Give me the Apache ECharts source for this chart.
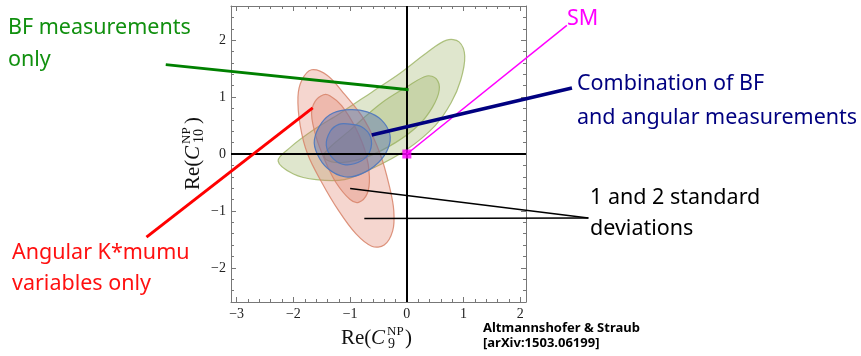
<!DOCTYPE html>
<html>
<head>
<meta charset="utf-8">
<script src="https://cdn.jsdelivr.net/npm/echarts@6/dist/echarts.min.js"></script>
<style>
  html, body { margin: 0; padding: 0; background: #fff; }
  #chart { width: 861px; height: 356px; }
</style>
</head>
<body>
<div id="chart"></div>
<script>
// Axis ranges and tick positions (Re C9 horizontally, Re C10 vertically)
const xRange = [-3.1, 2.1];
const yRange = [-2.6, 2.6];
const xMajorTicks = [-3, -2, -1, 0, 1, 2];
const yMajorTicks = [-2, -1, 0, 1, 2];

// Confidence contours, [Re C9, Re C10] vertices
const bfOuter = [[-2.27,-0.12],[-2.05,0.12],[-1.65,0.42],[-1.17,0.72],[-0.6,1.1],[-0.12,1.42],[0.35,1.78],[0.7,2.0],[0.92,1.97],[1.02,1.72],[0.95,1.3],[0.78,0.9],[0.5,0.5],[0.0,0.08],[-0.6,-0.25],[-1.1,-0.45],[-1.6,-0.45],[-2.0,-0.35]];
const bfInner = [[-1.45,0.02],[-1.0,0.42],[-0.47,0.88],[0.0,1.18],[0.35,1.37],[0.52,1.32],[0.57,1.12],[0.45,0.82],[0.2,0.5],[-0.2,0.2],[-0.7,-0.05],[-1.15,-0.15],[-1.42,-0.1]];
const angOuter = [[-1.68,1.48],[-1.85,1.3],[-1.92,1.0],[-1.88,0.5],[-1.75,0.0],[-1.5,-0.5],[-1.2,-1.0],[-0.9,-1.4],[-0.62,-1.62],[-0.4,-1.6],[-0.25,-1.35],[-0.23,-1.0],[-0.3,-0.6],[-0.47,0.0],[-0.75,0.6],[-1.1,1.05],[-1.4,1.38]];
const angInner = [[-1.47,1.04],[-1.62,0.92],[-1.68,0.7],[-1.6,0.3],[-1.45,-0.1],[-1.25,-0.5],[-1.0,-0.8],[-0.85,-0.85],[-0.7,-0.7],[-0.66,-0.4],[-0.72,0.0],[-0.9,0.45],[-1.15,0.85],[-1.35,1.02]];
const combOuter = [[-1.0,0.78],[-0.7,0.74],[-0.45,0.6],[-0.3,0.35],[-0.33,0.1],[-0.5,-0.15],[-0.8,-0.35],[-1.1,-0.4],[-1.4,-0.25],[-1.58,0.0],[-1.63,0.25],[-1.5,0.55],[-1.3,0.72]];
const combInner = [[-1.05,0.53],[-0.8,0.48],[-0.64,0.3],[-0.65,0.05],[-0.8,-0.12],[-1.08,-0.19],[-1.3,-0.08],[-1.42,0.15],[-1.35,0.4],[-1.2,0.52]];

// Standard Model point
const smPoint = [[0, 0]];

// Leader lines from the labels to the regions: [start, end]
const bfLeader = [[-4.25, 1.57], [0.03, 1.13]];
const angLeader = [[-4.59, -1.46], [-1.66, 0.81]];
const smLeader = [[0, 0], [2.82, 2.26]];
const combLeader = [[-0.62, 0.335], [2.91, 1.16]];
const sigmaLeader1 = [[-1.0, -0.605], [3.2, -1.125]];
const sigmaLeader2 = [[-0.75, -1.135], [3.2, -1.125]];

// Minor ticks every 0.2
function minorTicks(lo, hi) {
  const out = [];
  for (let i = Math.ceil(lo * 5); i <= Math.floor(hi * 5); i++) out.push(i / 5);
  return out;
}
const fmt = v => (v < 0 ? '\u2212' + Math.abs(v) : String(v));
const frameColor = '#777';
const tickFont = { fontFamily: 'Liberation Serif', fontSize: 14, color: '#222' };

function xAxisDef(position, ticks, len, labels, line) {
  return {
    type: 'value', position, min: xRange[0], max: xRange[1],
    splitLine: { show: false },
    axisLine: { show: line, onZero: false, lineStyle: { color: frameColor, width: 1 } },
    axisTick: { show: true, inside: true, length: len, customValues: ticks, lineStyle: { color: frameColor, width: 1 } },
    axisLabel: labels ? Object.assign({ show: true, customValues: xMajorTicks, formatter: fmt, margin: 5 }, tickFont) : { show: false }
  };
}
function yAxisDef(position, ticks, len, labels, line) {
  return {
    type: 'value', position, min: yRange[0], max: yRange[1],
    splitLine: { show: false },
    axisLine: { show: line, onZero: false, lineStyle: { color: frameColor, width: 1 } },
    axisTick: { show: true, inside: true, length: len, customValues: ticks, lineStyle: { color: frameColor, width: 1 } },
    axisLabel: labels ? Object.assign({ show: true, customValues: yMajorTicks, formatter: fmt, margin: 5 }, tickFont) : { show: false }
  };
}

// Filled contour drawn through the cartesian scales
function contour(points, fill, stroke, z) {
  return {
    type: 'custom', coordinateSystem: 'cartesian2d', xAxisIndex: 0, yAxisIndex: 0,
    z, silent: true, data: [points[0]],
    renderItem: (params, api) => ({
      type: 'polygon',
      shape: { points: points.map(p => api.coord(p)), smooth: 0.35 },
      style: { fill, stroke, lineWidth: 1.2 }
    })
  };
}
// Straight leader segment, allowed to run outside the plot frame
function leader(points, color, width) {
  return {
    type: 'custom', coordinateSystem: 'cartesian2d', xAxisIndex: 0, yAxisIndex: 0,
    clip: false, silent: true, z: 6, data: [points[0]],
    renderItem: (params, api) => {
      const a = api.coord(points[0]);
      const b = api.coord(points[1]);
      return {
        type: 'line',
        shape: { x1: a[0], y1: a[1], x2: b[0], y2: b[1] },
        style: { stroke: color, lineWidth: width, lineCap: 'butt' }
      };
    }
  };
}

const labelFont = 'Noto Sans';
function label(text, x, y, color, size, weight) {
  return {
    type: 'text', x, y, silent: true, z: 10,
    style: { text, fill: color, font: (weight || 'normal') + ' ' + size + 'px "' + labelFont + '"', verticalAlign: 'middle' }
  };
}
function mathTitle(x, y, sub, rotation) {
  const f = 'px "Liberation Serif"';
  return {
    type: 'group', x, y, rotation, silent: true,
    children: [
      { type: 'text', x: 0, y: 0, style: { text: 'Re(', font: '21' + f, fill: '#111', verticalAlign: 'middle' } },
      { type: 'text', x: 30, y: 0, style: { text: 'C', font: 'italic 21' + f, fill: '#111', verticalAlign: 'middle' } },
      { type: 'text', x: 46, y: -6.5, style: { text: 'NP', font: '13' + f, fill: '#111', verticalAlign: 'middle' } },
      { type: 'text', x: 47, y: 6.5, style: { text: sub, font: '14' + f, fill: '#111', verticalAlign: 'middle' } },
      { type: 'text', x: 47 + (sub.length > 1 ? 19 : 17), y: 0, style: { text: ')', font: '21' + f, fill: '#111', verticalAlign: 'middle' } }
    ]
  };
}

const chart = echarts.init(document.getElementById('chart'), null, { renderer: 'canvas' });
chart.setOption({
  animation: false,
  backgroundColor: '#fff',
  grid: { left: 231, top: 6, right: 335, bottom: 54, containLabel: false },
  xAxis: [
    xAxisDef('bottom', xMajorTicks, 5, true, true),
    xAxisDef('bottom', minorTicks(xRange[0], xRange[1]), 3, false, false),
    xAxisDef('top', xMajorTicks, 5, false, true),
    xAxisDef('top', minorTicks(xRange[0], xRange[1]), 3, false, false)
  ],
  yAxis: [
    yAxisDef('left', yMajorTicks, 5, true, true),
    yAxisDef('left', minorTicks(yRange[0], yRange[1]), 3, false, false),
    yAxisDef('right', yMajorTicks, 5, false, true),
    yAxisDef('right', minorTicks(yRange[0], yRange[1]), 3, false, false)
  ],
  series: [
    contour(bfOuter, 'rgba(139,164,75,0.28)', 'rgba(150,175,90,0.75)', 1),
    contour(bfInner, 'rgba(139,164,75,0.28)', 'rgba(150,175,90,0.75)', 1),
    contour(angOuter, 'rgba(222,120,95,0.30)', 'rgba(215,130,105,0.85)', 2),
    contour(angInner, 'rgba(222,120,95,0.30)', 'rgba(215,130,105,0.85)', 2),
    contour(combOuter, 'rgba(80,110,180,0.42)', 'rgba(80,120,190,0.95)', 3),
    contour(combInner, 'rgba(80,110,180,0.28)', 'rgba(80,120,190,0.95)', 3),
    {
      type: 'line', data: [], silent: true, z: 5,
      markLine: {
        symbol: 'none', silent: true, animation: false,
        label: { show: false },
        lineStyle: { color: '#000', width: 2, type: 'solid' },
        data: [{ yAxis: 0 }, { xAxis: 0 }]
      }
    },
    leader(bfLeader, '#008000', 3),
    leader(angLeader, '#ff0000', 3),
    leader(smLeader, '#ff00ff', 1.5),
    leader(combLeader, '#000080', 3.5),
    leader(sigmaLeader1, '#000', 1.5),
    leader(sigmaLeader2, '#000', 1.5),
    {
      type: 'scatter', data: smPoint, symbol: 'rect', symbolSize: 9, z: 7, silent: true,
      itemStyle: { color: '#ff00ff' }
    }
  ],
  graphic: [
    label('BF measurements', 8, 27.5, '#11900f', 21.5),
    label('only', 8, 59.5, '#11900f', 21.5),
    label('Angular K*mumu', 12, 253, '#ff1010', 21.5),
    label('variables only', 12, 284, '#ff1010', 21.5),
    label('SM', 567, 18.5, '#ff00ff', 21.5),
    label('Combination of BF', 577, 84, '#000080', 21.5),
    label('and angular measurements', 577, 117.5, '#000080', 21.5),
    label('1 and 2 standard', 590, 198, '#000', 21.5),
    label('deviations', 590, 229, '#000', 21.5),
    label('Altmannshofer & Straub', 483, 328.5, '#000', 13, 'bold'),
    label('[arXiv:1503.06199]', 483, 343.5, '#000', 13, 'bold'),
    mathTitle(341, 338, '9', 0),
    mathTitle(193, 190, '10', Math.PI / 2)
  ]
});
</script>
</body>
</html>
